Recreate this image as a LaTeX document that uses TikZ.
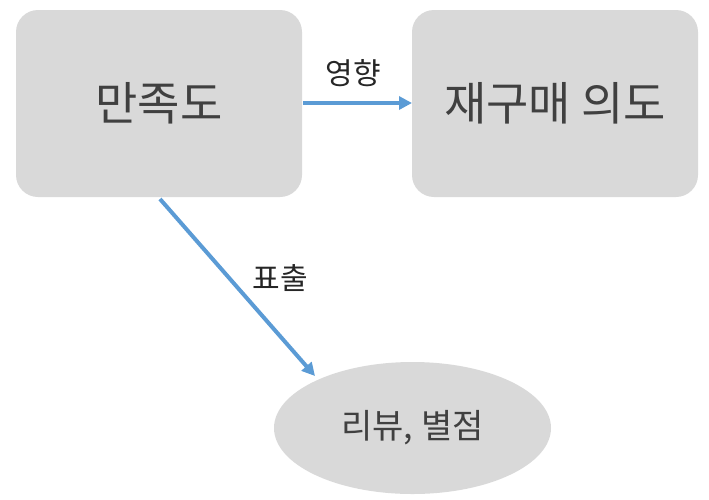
\documentclass[tikz,border=0pt]{standalone}
\usepackage{fontspec}
\setmainfont{Noto Sans CJK KR}
\usetikzlibrary{arrows.meta,shapes.geometric}
\definecolor{boxgray}{HTML}{D9D9D9}
\definecolor{txtgray}{HTML}{404040}
\definecolor{arrblue}{HTML}{5B9BD5}
\tikzset{
  box/.style={draw=none,fill=boxgray,rounded corners=22pt,minimum width=286pt,minimum height=187pt,inner sep=0pt,text=txtgray,font=\fontsize{46}{54}\selectfont},
  oval/.style={ellipse,draw=none,fill=boxgray,minimum width=277pt,minimum height=132pt,inner sep=0pt,text=txtgray,font=\fontsize{34}{40}\selectfont},
  conn/.style={draw=arrblue,line width=4pt,-{Triangle[length=13pt,width=13pt]}},
  lbl/.style={text=black!85,font=\fontsize{30}{36}\selectfont,inner sep=0pt}
}
\begin{document}
\begin{tikzpicture}[x=1pt,y=-1pt]
\useasboundingbox (0,0) rectangle (709,499);
\node[box] (sat) at (159,103.5) {만족도};
\node[box] (rep) at (555,103.5) {재구매 의도};
\node[oval] (rev) at (412.5,428) {리뷰, 별점};
\coordinate (s1) at (303,103);
\coordinate (e1) at (412,103);
\coordinate (s2) at (160,199);
\coordinate (e2) at (315,376);
\draw[conn] (s1) -- (e1);
\draw[conn] (s2) -- (e2);
\node[lbl] (l1) at (353,73) {영향};
\node[lbl] (l2) at (280,278) {표출};
\end{tikzpicture}
\end{document}
